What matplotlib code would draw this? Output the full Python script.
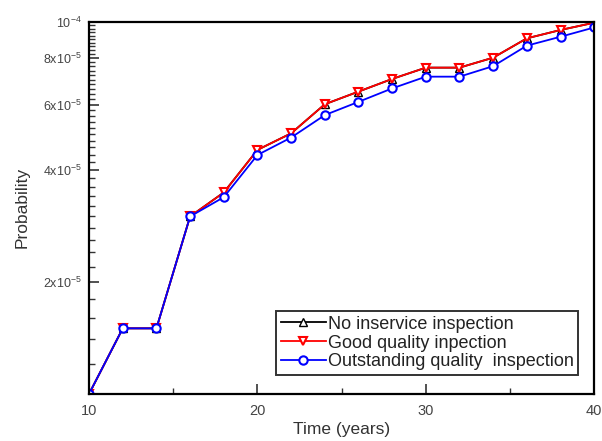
import numpy as np
import matplotlib
matplotlib.use('Agg')
import matplotlib.pyplot as plt
from matplotlib.ticker import FixedLocator, FixedFormatter, NullFormatter

plt.rcParams['font.family'] = ['Liberation Sans', 'DejaVu Sans']
plt.rcParams['mathtext.default'] = 'regular'

# data
years = [10, 12, 14, 16, 18, 20, 22, 24, 26, 28, 30, 32, 34, 36, 38, 40]
no_inspection = [1.0e-5, 1.5e-5, 1.5e-5, 3.0e-5, 3.48e-5, 4.53e-5, 5.02e-5, 6.01e-5,
                 6.5e-5, 7.03e-5, 7.54e-5, 7.54e-5, 8.02e-5, 9.04e-5, 9.52e-5, 9.96e-5]
good_quality = [1.0e-5, 1.5e-5, 1.5e-5, 3.0e-5, 3.48e-5, 4.53e-5, 5.02e-5, 6.01e-5,
                6.5e-5, 7.03e-5, 7.54e-5, 7.54e-5, 8.02e-5, 9.04e-5, 9.52e-5, 9.96e-5]
outstanding = [1.0e-5, 1.5e-5, 1.5e-5, 3.0e-5, 3.38e-5, 4.39e-5, 4.89e-5, 5.62e-5,
               6.1e-5, 6.63e-5, 7.13e-5, 7.13e-5, 7.61e-5, 8.64e-5, 9.13e-5, 9.67e-5]

ytick_vals = [2e-5, 4e-5, 6e-5, 8e-5, 1e-4]
ytick_labels = ['2x10$^{-5}$', '4x10$^{-5}$', '6x10$^{-5}$', '8x10$^{-5}$', '10$^{-4}$']

fig = plt.figure(figsize=(6.02, 4.41), dpi=100)
ax = fig.add_axes([0.148, 0.107, 0.839, 0.843])

ax.plot(years, no_inspection, color='black', lw=1.3, marker='^', ms=6,
        mfc='white', mec='black', mew=1.0, label='No inservice inspection')
ax.plot(years, good_quality, color='red', lw=1.3, marker='v', ms=6,
        mfc='white', mec='red', mew=1.5, label='Good quality inpection')
ax.plot(years, outstanding, color='blue', lw=1.3, marker='o', ms=6,
        mfc='white', mec='blue', mew=1.5, label='Outstanding quality  inspection')

ax.set_yscale('log')
ax.set_xlim(10, 40)
ax.set_ylim(1e-5, 1e-4)

ax.set_xticks([10, 20, 30, 40])
ax.set_xticks([15, 25, 35], minor=True)
ax.yaxis.set_major_locator(FixedLocator(ytick_vals))
ax.yaxis.set_major_formatter(FixedFormatter(ytick_labels))
ax.yaxis.set_minor_locator(FixedLocator(np.arange(1.2e-5, 1.0e-4, 2e-6)))
ax.yaxis.set_minor_formatter(NullFormatter())

ax.tick_params(which='both', direction='in', top=False, right=False,
               colors='#333333', labelcolor='#444444')
ax.tick_params(which='major', length=7, width=1.2)
ax.tick_params(which='minor', length=4, width=1.0)
ax.tick_params(axis='x', which='major', labelsize=10.5, pad=7)
ax.tick_params(axis='y', which='major', labelsize=9, pad=5.5)
for sp in ax.spines.values():
    sp.set_linewidth(1.6)

ax.set_xlabel('Time (years)', fontsize=12.5, color='#333333', labelpad=3)
ax.set_ylabel('Probability', fontsize=12.5, color='#333333', labelpad=9)

leg = ax.legend(loc='lower right', bbox_to_anchor=(0.968, 0.051), fontsize=13,
                frameon=True, fancybox=False, borderpad=0.25, labelspacing=0.1,
                handlelength=2.5, handletextpad=0.1, borderaxespad=0)
leg.get_frame().set_edgecolor('black')
leg.get_frame().set_linewidth(1.4)
for t in leg.get_texts():
    t.set_color('#222222')

fig.savefig('out.png', dpi=100)
